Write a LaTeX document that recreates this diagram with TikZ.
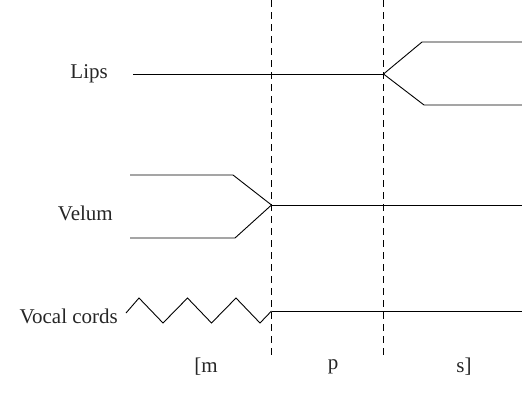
\documentclass[tikz,border=0pt]{standalone}
\usepackage{fontspec}
\setmainfont{Liberation Serif}
\tikzset{
    track/.style={line width=0.9pt, line join=miter},
    boundary/.style={line width=0.9pt, dash pattern=on 7pt off 5pt},
    label/.style={font=\fontsize{21}{24}\selectfont, text=black!85, inner sep=0pt}
}
\begin{document}
\begin{tikzpicture}[x=1pt, y=-1pt]
        \useasboundingbox (0,0) rectangle (522,408);

        % Segment boundaries
        \coordinate (b1top) at (271.5,0);
        \coordinate (b1bot) at (271.5,356);
        \coordinate (b2top) at (383.5,0);
        \coordinate (b2bot) at (383.5,356);
        \draw[boundary] (b1top) -- (b1bot);
        \draw[boundary] (b2top) -- (b2bot);

        % Lips
        \node[label, anchor=east] (lips) at (108,74) {Lips};
        \coordinate (lipsstart) at (133,74);
        \coordinate (lipsjoin) at (383.5,74);
        \coordinate (lipsup) at (422,42);
        \coordinate (lipsdown) at (424,105);
        \draw[track] (lipsstart) -- (lipsjoin);
        \draw[track] (lipsjoin) -- (lipsup) -- (522,42);
        \draw[track] (lipsjoin) -- (lipsdown) -- (522,105);

        % Velum
        \node[label, anchor=east] (velum) at (113,213) {Velum};
        \coordinate (velumjoin) at (271.5,205);
        \draw[track] (130,175) -- (233,175) -- (velumjoin);
        \draw[track] (130,238) -- (235,238) -- (velumjoin);
        \draw[track] (velumjoin) -- (522,205);

        % Vocal cords - voicing
        \node[label, anchor=east] (cords) at (118,316) {Vocal cords};
        \coordinate (cordsjoin) at (271.5,311);
        \draw[track] (126,313)
            \foreach \i in {0,1,2} {
                -- (139 + 48.5*\i, 298) -- (163 + 48.5*\i, 323)
            } -- (cordsjoin);
        \draw[track] (cordsjoin) -- (522,311);

        % Segments
        \node[label] (segm) at (206,367) {[m};
        \node[label] (segp) at (333,367) {p};
        \node[label] (segs) at (464,367) {s]};
    \end{tikzpicture}
\end{document}
